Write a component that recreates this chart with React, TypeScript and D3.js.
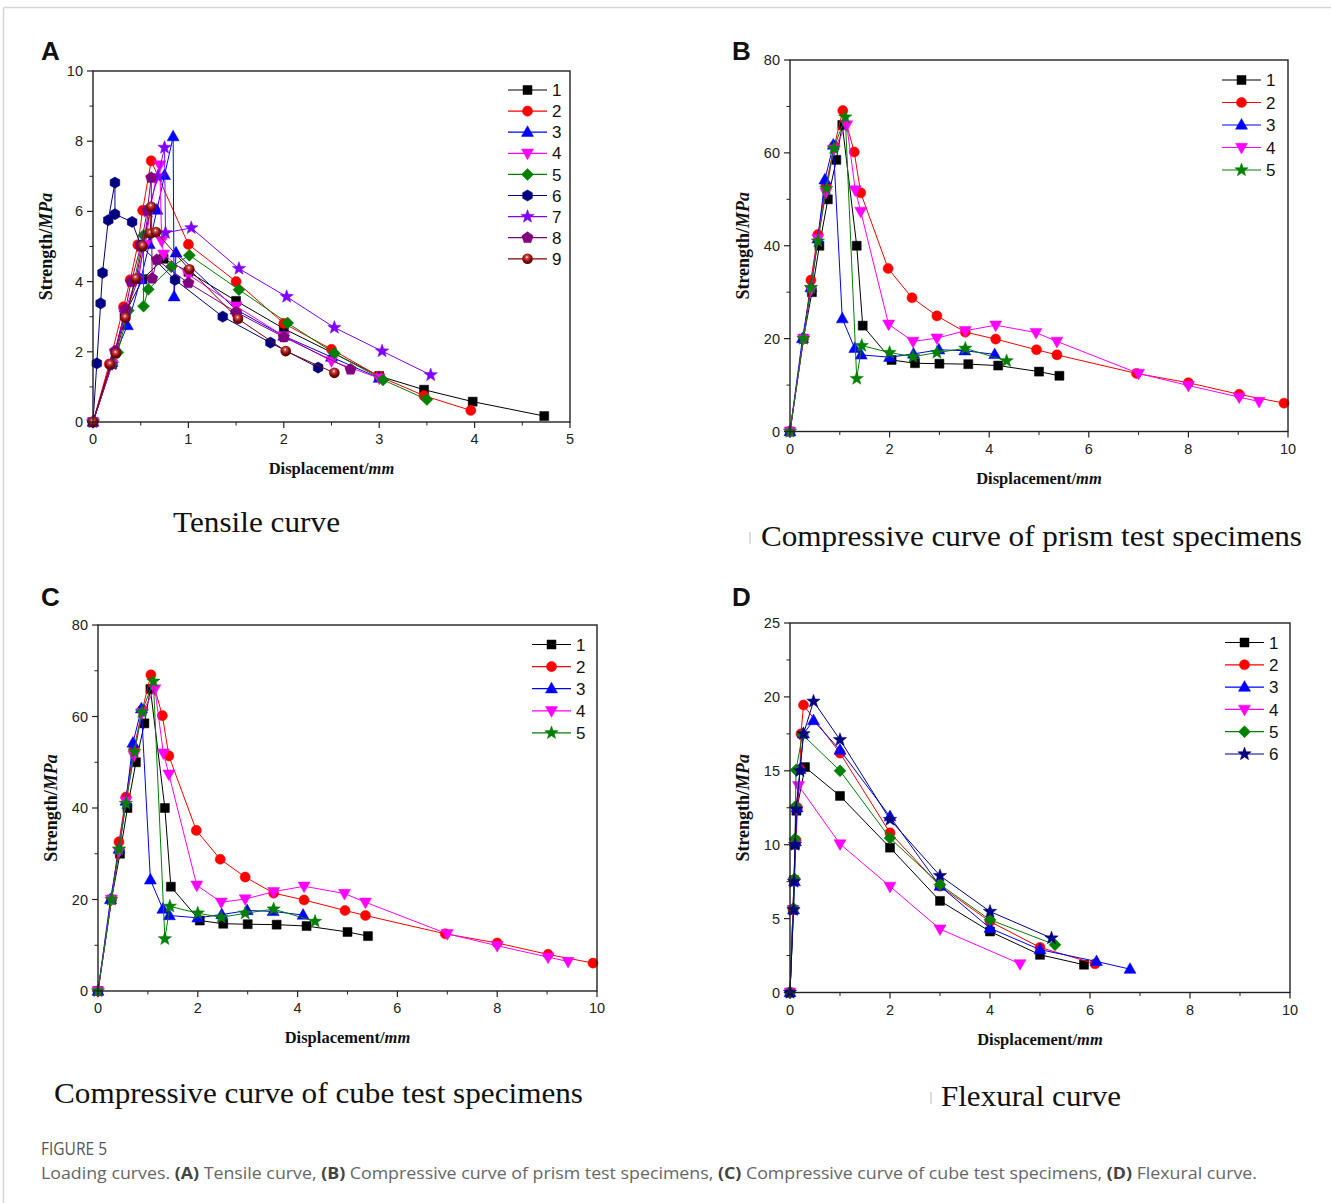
import React from 'react';
import * as d3 from 'd3';

type Pt = [number, number];

// ---------- Panel A: Tensile ----------
const tensile1: Pt[] = [[0,0],[0.2,1.65],[0.33,3.05],[0.52,4.07],[0.74,4.65],[1.0,4.28],[1.5,3.45],[2.0,2.66],[3.0,1.31],[3.47,0.92],[3.98,0.58],[4.73,0.17]];
const tensile2: Pt[] = [[0,0],[0.17,1.65],[0.32,3.28],[0.39,4.05],[0.47,5.05],[0.52,6.03],[0.61,7.44],[1.0,5.06],[1.5,4.0],[2.0,2.81],[2.5,2.07],[3.0,1.3],[3.47,0.75],[3.96,0.33]];
const tensile3: Pt[] = [[0,0],[0.2,1.7],[0.36,2.75],[0.5,4.06],[0.59,5.06],[0.67,6.04],[0.75,7.03],[0.84,8.13],[0.85,3.57],[0.87,4.82],[1.5,3.2],[2.0,2.45],[2.5,1.85],[3.0,1.25]];
const tensile4: Pt[] = [[0,0],[0.2,1.65],[0.33,3.1],[0.45,4.05],[0.55,5.05],[0.6,6.05],[0.66,6.95],[0.7,7.32],[0.72,5.16],[0.74,4.78],[1.0,4.2],[1.5,3.3],[2.0,2.45],[2.5,1.74],[3.0,1.25]];
const tensile5: Pt[] = [[0,0],[0.2,1.65],[0.26,1.98],[0.37,3.18],[0.53,5.32],[0.53,3.3],[0.58,3.78],[0.82,4.42],[1.01,4.75],[1.53,3.77],[2.04,2.82],[2.53,1.96],[3.04,1.2],[3.5,0.64]];
const tensile6: Pt[] = [[0,0],[0.04,1.67],[0.08,3.38],[0.1,4.25],[0.16,5.75],[0.23,6.82],[0.23,5.92],[0.41,5.7],[0.5,5.03],[0.86,4.05],[1.36,3.0],[1.86,2.26],[2.36,1.55]];
const tensile7: Pt[] = [[0,0],[0.2,1.65],[0.34,3.1],[0.48,4.1],[0.58,6.0],[0.68,7.0],[0.75,7.82],[0.76,5.39],[1.03,5.53],[1.53,4.37],[2.03,3.57],[2.53,2.69],[3.03,2.02],[3.54,1.34]];
const tensile8: Pt[] = [[0,0],[0.23,2.02],[0.34,3.21],[0.4,3.99],[0.5,5.0],[0.57,6.03],[0.61,6.96],[0.62,4.09],[0.67,4.62],[1.0,3.96],[1.5,3.13],[2.0,2.42],[2.7,1.5]];
const tensile9: Pt[] = [[0,0],[0.18,1.64],[0.24,1.95],[0.34,2.97],[0.45,4.09],[0.52,5.01],[0.61,6.13],[0.6,5.37],[0.66,5.41],[1.01,4.35],[1.52,2.94],[2.02,2.02],[2.53,1.4]];

// ---------- Panels B & C: Compressive ----------
const prism1: Pt[] = [[0,0],[0.27,20],[0.44,30],[0.59,40],[0.76,50],[0.93,58.5],[1.05,66],[1.34,40],[1.46,22.8],[2.04,15.4],[2.51,14.7],[3.0,14.6],[3.58,14.5],[4.18,14.2],[5.0,12.9],[5.41,12.0]];
const prism2: Pt[] = [[0,0],[0.27,20],[0.42,32.6],[0.56,42.4],[0.72,53],[0.89,61.5],[1.06,69.1],[1.29,60.2],[1.42,51.4],[1.97,35.1],[2.45,28.8],[2.95,24.9],[3.52,21.4],[4.13,19.9],[4.95,17.6],[5.36,16.5],[6.96,12.5],[8.0,10.5],[9.02,8.0],[9.92,6.1]];
const prism3: Pt[] = [[0,0],[0.25,20],[0.42,31],[0.56,41.5],[0.7,54.2],[0.87,61.7],[1.05,24.3],[1.3,17.9],[1.43,16.5],[2.0,16.0],[2.48,16.7],[2.99,17.6],[3.51,17.4],[4.11,16.6]];
const prism4: Pt[] = [[0,0],[0.27,20],[0.42,30.5],[0.56,41.5],[0.72,51.5],[0.88,60.8],[1.14,66.0],[1.31,52.0],[1.42,47.4],[1.98,23.1],[2.47,19.4],[2.95,20.1],[3.52,21.7],[4.13,22.9],[4.94,21.3],[5.36,19.4],[7.0,12.5],[8.0,9.9],[9.02,7.4],[9.42,6.45]];
const prism5: Pt[] = [[0,0],[0.27,20],[0.42,31],[0.56,41],[0.73,52.3],[0.88,61],[1.11,67.7],[1.34,11.4],[1.44,18.5],[2.0,17.0],[2.47,16.1],[2.95,17.0],[3.52,17.9],[4.35,15.2]];

const cube1: Pt[] = prism1;
const cube2: Pt[] = prism2;
const cube3: Pt[] = prism3;
const cube4: Pt[] = prism4;
const cube5: Pt[] = prism5;

// ---------- Panel D: Flexural ----------
const flex1: Pt[] = [[0,0],[0.06,5.6],[0.08,7.6],[0.1,10.0],[0.13,12.3],[0.3,15.25],[1.0,13.3],[2.0,9.8],[3.0,6.2],[4.0,4.13],[5.0,2.55],[5.88,1.88]];
const flex2: Pt[] = [[0,0],[0.06,5.6],[0.08,7.6],[0.12,10.3],[0.15,12.5],[0.2,15.1],[0.22,17.5],[0.27,19.45],[1.0,16.2],[2.0,10.8],[3.0,7.2],[4.0,4.8],[5.0,3.05],[6.1,1.94]];
const flex3: Pt[] = [[0,0],[0.07,5.6],[0.09,7.5],[0.11,10.2],[0.14,12.5],[0.2,15.1],[0.27,17.5],[0.47,18.4],[1.0,16.4],[2.0,11.9],[3.0,7.2],[4.0,4.35],[5.0,2.9],[6.13,2.1],[6.8,1.58]];
const flex4: Pt[] = [[0,0],[0.06,5.6],[0.08,7.5],[0.1,10.1],[0.12,12.4],[0.17,14.0],[1.0,10.05],[2.0,7.18],[3.0,4.29],[4.6,1.94]];
const flex5: Pt[] = [[0,0],[0.07,5.7],[0.09,7.7],[0.1,10.4],[0.11,12.6],[0.12,15.05],[0.25,17.45],[1.0,15.0],[2.0,10.45],[3.0,7.3],[4.0,4.92],[5.3,3.23]];
const flex6: Pt[] = [[0,0],[0.07,5.6],[0.08,7.5],[0.1,10.0],[0.12,12.4],[0.2,15.0],[0.27,17.5],[0.47,19.7],[1.0,17.1],[2.0,11.7],[3.0,7.9],[4.0,5.48],[5.23,3.68]];

// ---------- Labels & ticks ----------
const tensileNames = ['1','2','3','4','5','6','7','8','9'];
const prismNames = ['1','2','3','4','5'];
const flexNames = ['1','2','3','4','5','6'];

const xTicksA = [0,1,2,3,4,5];
const yTicksA = [0,2,4,6,8,10];
const xTicks10 = [0,2,4,6,8,10];
const yTicks80 = [0,20,40,60,80];
const yTicks25 = [0,5,10,15,20,25];

type Marker = 'square'|'circle'|'tri'|'tridown'|'diamond'|'hex'|'star'|'pent'|'sphere';

interface SeriesDef { name: string; data: Pt[]; color: string; line: string; marker: Marker; }

function poly(n: number, r: number, rot = -Math.PI / 2) {
  const pts = d3.range(n).map(i => {
    const a = rot + (i * 2 * Math.PI) / n;
    return [r * Math.cos(a), r * Math.sin(a)];
  });
  return 'M' + pts.map(p => p[0].toFixed(2) + ',' + p[1].toFixed(2)).join('L') + 'Z';
}
function starPath(R: number, r: number) {
  const pts = d3.range(10).map(i => {
    const a = -Math.PI / 2 + (i * Math.PI) / 5;
    const rr = i % 2 === 0 ? R : r;
    return [rr * Math.cos(a), rr * Math.sin(a)];
  });
  return 'M' + pts.map(p => p[0].toFixed(2) + ',' + p[1].toFixed(2)).join('L') + 'Z';
}
function markerPath(m: Marker): string {
  switch (m) {
    case 'square': return 'M-4.5,-4.5h9v9h-9Z';
    case 'circle': return d3.symbol(d3.symbolCircle, 80)() as string;
    case 'tri': return 'M0,-6.5L6,4.2L-6,4.2Z';
    case 'tridown': return 'M0,6.5L6,-4.2L-6,-4.2Z';
    case 'diamond': return 'M0,-6L6,0L0,6L-6,0Z';
    case 'hex': return poly(6, 5.6);
    case 'pent': return poly(5, 6);
    case 'star': return starPath(7, 2.9);
    default: return '';
  }
}

const MarkerShape = ({ m, x, y, color }: { m: Marker; x: number; y: number; color: string }) => {
  if (m === 'sphere') {
    return <circle cx={x} cy={y} r={5.3} fill="url(#sphereGrad)" />;
  }
  return <path d={markerPath(m)} transform={`translate(${x},${y})`} fill={color} stroke={color} strokeWidth={0.5} />;
};

interface PanelCfg {
  letter: string; lx: number; ly: number;
  left: number; right: number; top: number; bottom: number;
  xDomain: [number, number]; yDomain: [number, number];
  xTicks: number[]; yTicks: number[]; xMinor: number; yMinor: number;
  series: SeriesDef[];
  legX: number; legY: number; legStep: number;
  title: string; titleX: number; titleY: number; titleLen: number; mark?: number;
}

const Panel = ({ c }: { c: PanelCfg }) => {
  const x = d3.scaleLinear().domain(c.xDomain).range([c.left, c.right]);
  const y = d3.scaleLinear().domain(c.yDomain).range([c.bottom, c.top]);
  const line = d3.line<Pt>().x(d => x(d[0])).y(d => y(d[1]));
  const eps = 1e-6;
  const xMinorTicks = d3.range(c.xDomain[0], c.xDomain[1] + eps, c.xMinor).filter(v => !c.xTicks.some(t => Math.abs(t - v) < eps));
  const yMinorTicks = d3.range(c.yDomain[0], c.yDomain[1] + eps, c.yMinor).filter(v => !c.yTicks.some(t => Math.abs(t - v) < eps));
  const axisColor = '#222';
  const cy = (c.top + c.bottom) / 2;
  const cx = (c.left + c.right) / 2;
  return (
    <g>
      <text x={c.lx} y={c.ly} fontFamily="Liberation Sans, Arial, sans-serif" fontWeight="bold" fontSize={26} fill="#111">{c.letter}</text>
      {c.series.map((s, i) => (
        <g key={i}>
          <path d={line(s.data) as string} fill="none" stroke={s.line} strokeWidth={1} />
          {s.data.map((d, j) => <MarkerShape key={j} m={s.marker} x={x(d[0])} y={y(d[1])} color={s.color} />)}
        </g>
      ))}
      <rect x={c.left} y={c.top} width={c.right - c.left} height={c.bottom - c.top} fill="none" stroke={axisColor} strokeWidth={1.4} />
      {c.xTicks.map(t => (
        <g key={'xt' + t}>
          <line x1={x(t)} x2={x(t)} y1={c.bottom} y2={c.bottom + 6} stroke={axisColor} strokeWidth={1.2} />
          <text x={x(t)} y={c.bottom + 22} textAnchor="middle" fontFamily="Liberation Sans, Arial, sans-serif" fontSize={14.5} fill="#222">{t}</text>
        </g>
      ))}
      {xMinorTicks.map(t => <line key={'xm' + t} x1={x(t)} x2={x(t)} y1={c.bottom} y2={c.bottom + 3.5} stroke={axisColor} strokeWidth={1} />)}
      {c.yTicks.map(t => (
        <g key={'yt' + t}>
          <line x1={c.left - 6} x2={c.left} y1={y(t)} y2={y(t)} stroke={axisColor} strokeWidth={1.2} />
          <text x={c.left - 10} y={y(t)} dy="0.35em" textAnchor="end" fontFamily="Liberation Sans, Arial, sans-serif" fontSize={14.5} fill="#222">{t}</text>
        </g>
      ))}
      {yMinorTicks.map(t => <line key={'ym' + t} x1={c.left - 3.5} x2={c.left} y1={y(t)} y2={y(t)} stroke={axisColor} strokeWidth={1} />)}
      <text x={cx} y={c.bottom + 52} textAnchor="middle" fontFamily="Liberation Serif, Times New Roman, serif" fontWeight="bold" fontSize={16.5} fill="#111">
        Displacement/<tspan fontStyle="italic">mm</tspan>
      </text>
      <text transform={`translate(${c.left - 41},${cy}) rotate(-90)`} textAnchor="middle" fontFamily="Liberation Serif, Times New Roman, serif" fontWeight="bold" fontSize={18} fill="#111">
        Strength/<tspan fontStyle="italic">MPa</tspan>
      </text>
      {c.series.map((s, i) => {
        const ly = c.legY + i * c.legStep;
        return (
          <g key={'lg' + i}>
            <line x1={c.legX} x2={c.legX + 39} y1={ly} y2={ly} stroke={s.line} strokeWidth={1.2} />
            <MarkerShape m={s.marker} x={c.legX + 19.5} y={ly} color={s.color} />
            <text x={c.legX + 44} y={ly} dy="0.36em" fontFamily="Liberation Sans, Arial, sans-serif" fontSize={17} fill="#111">{s.name}</text>
          </g>
        );
      })}
      {c.mark !== undefined && <line x1={c.mark} x2={c.mark} y1={c.titleY - 14} y2={c.titleY - 2} stroke="#bbb" strokeWidth={1} />}
      <text x={c.titleX} y={c.titleY} textLength={c.titleLen} lengthAdjust="spacingAndGlyphs" fontFamily="Liberation Serif, Times New Roman, serif" fontSize={29} fill="#111">{c.title}</text>
    </g>
  );
};

const tensileColors = ['#000000', '#FF0000', '#0000FF', '#FF00FF', '#008000', '#000080', '#8000FF', '#800080', '#800000'];
const tensileMarkers: Marker[] = ['square', 'circle', 'tri', 'tridown', 'diamond', 'hex', 'star', 'pent', 'sphere'];
const tensileData = [tensile1, tensile2, tensile3, tensile4, tensile5, tensile6, tensile7, tensile8, tensile9];

const compColors = ['#000000', '#FF0000', '#0000FF', '#FF00FF', '#008000'];
const compMarkers: Marker[] = ['square', 'circle', 'tri', 'tridown', 'star'];
const prismData = [prism1, prism2, prism3, prism4, prism5];
const cubeData = [cube1, cube2, cube3, cube4, cube5];

const flexColors = ['#000000', '#FF0000', '#0000FF', '#FF00FF', '#008000', '#000080'];
const flexMarkers: Marker[] = ['square', 'circle', 'tri', 'tridown', 'diamond', 'star'];
const flexData = [flex1, flex2, flex3, flex4, flex5, flex6];

const mk = (names: string[], data: Pt[][], colors: string[], markers: Marker[]): SeriesDef[] =>
  names.map((n, i) => ({ name: n, data: data[i], color: colors[i], line: colors[i], marker: markers[i] }));

const panels: PanelCfg[] = [
  {
    letter: 'A', lx: 41, ly: 60, left: 93, right: 570, top: 71, bottom: 422,
    xDomain: [0, 5], yDomain: [0, 10], xTicks: xTicksA, yTicks: yTicksA, xMinor: 0.5, yMinor: 1,
    series: mk(tensileNames, tensileData, tensileColors, tensileMarkers),
    legX: 508, legY: 90, legStep: 21.1,
    title: 'Tensile curve', titleX: 173, titleY: 532, titleLen: 167,
  },
  {
    letter: 'B', lx: 732, ly: 60, left: 790, right: 1288, top: 60, bottom: 431.5,
    xDomain: [0, 10], yDomain: [0, 80], xTicks: xTicks10, yTicks: yTicks80, xMinor: 1, yMinor: 10,
    series: mk(prismNames, prismData, compColors, compMarkers),
    legX: 1222, legY: 80, legStep: 22.5,
    title: 'Compressive curve of prism test specimens', titleX: 761, titleY: 546, titleLen: 541, mark: 750,
  },
  {
    letter: 'C', lx: 41, ly: 606, left: 98, right: 597, top: 625, bottom: 991,
    xDomain: [0, 10], yDomain: [0, 80], xTicks: xTicks10, yTicks: yTicks80, xMinor: 1, yMinor: 10,
    series: mk(prismNames, cubeData, compColors, compMarkers),
    legX: 532, legY: 644.5, legStep: 22.1,
    title: 'Compressive curve of cube test specimens', titleX: 54, titleY: 1103, titleLen: 529,
  },
  {
    letter: 'D', lx: 732, ly: 606, left: 790, right: 1290, top: 623, bottom: 992.5,
    xDomain: [0, 10], yDomain: [0, 25], xTicks: xTicks10, yTicks: yTicks25, xMinor: 1, yMinor: 2.5,
    series: mk(flexNames, flexData, flexColors, flexMarkers),
    legX: 1225, legY: 642.5, legStep: 22.3,
    title: 'Flexural curve', titleX: 941, titleY: 1106, titleLen: 180, mark: 931,
  },
];

export default function App() {
  return (
    <svg width={1331} height={1203} style={{ position: 'absolute', left: 0, top: 0, background: '#fff' }}>
      <defs>
        <radialGradient id="sphereGrad" cx="45%" cy="35%" r="65%">
          <stop offset="0" stopColor="#ffffff" />
          <stop offset="0.22" stopColor="#d24a4a" />
          <stop offset="0.6" stopColor="#8a0a0a" />
          <stop offset="1" stopColor="#4a0000" />
        </radialGradient>
      </defs>
      <rect x={0} y={0} width={1331} height={1203} fill="#fff" />
      <line x1={3.5} x2={1331} y1={7.5} y2={7.5} stroke="#d6d6d6" strokeWidth={1.5} />
      <line x1={3.5} x2={3.5} y1={7.5} y2={1203} stroke="#d6d6d6" strokeWidth={1.5} />
      {panels.map((p, i) => <Panel key={i} c={p} />)}
      <text x={41} y={1155} textLength={66} lengthAdjust="spacingAndGlyphs" fontFamily="Open Sans, sans-serif" fontSize={18} fill="#555">FIGURE 5</text>
      <text x={41} y={1179} textLength={1216} lengthAdjust="spacingAndGlyphs" fontFamily="Open Sans, sans-serif" fontSize={16} fill="#666">
        Loading curves. <tspan fontWeight="bold" fill="#444">(A)</tspan> Tensile curve, <tspan fontWeight="bold" fill="#444">(B)</tspan> Compressive curve of prism test specimens, <tspan fontWeight="bold" fill="#444">(C)</tspan> Compressive curve of cube test specimens, <tspan fontWeight="bold" fill="#444">(D)</tspan> Flexural curve.
      </text>
    </svg>
  );
}
